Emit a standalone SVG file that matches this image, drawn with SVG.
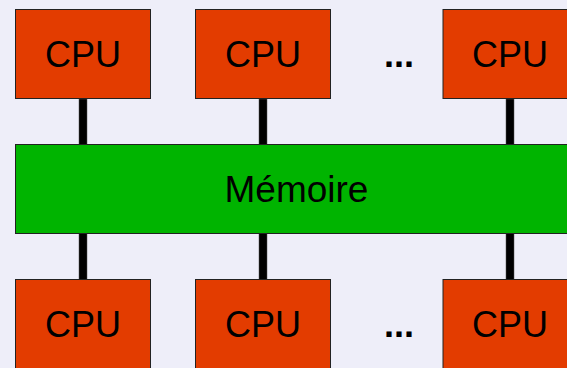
<svg xmlns="http://www.w3.org/2000/svg" width="567" height="368" viewBox="0 0 567 368">
  <style>
    .cpu { fill: #e33c00; stroke: #222; stroke-width: 1; }
    .mem { fill: #00b400; stroke: #222; stroke-width: 1; }
    .bus { fill: #000; stroke: #555; stroke-width: 0.5; }
    .lbl { font-family: "Liberation Sans", Arial, sans-serif; font-size: 36px; fill: #000; text-anchor: middle; }
    .big { font-size: 37px; }
    .dots { font-family: "Liberation Sans", Arial, sans-serif; font-size: 36px; font-weight: bold; fill: #000; text-anchor: middle; }
  </style>
  <rect width="567" height="368" fill="#eeeef9"/>

  <!-- links between processors and shared memory -->
  <g id="connectors">
    <rect class="bus" x="79" y="99" width="8" height="45.5"/>
    <rect class="bus" x="259" y="99" width="8" height="45.5"/>
    <rect class="bus" x="506" y="99" width="8" height="45.5"/>
    <rect class="bus" x="79" y="233.5" width="8" height="46"/>
    <rect class="bus" x="259" y="233.5" width="8" height="46"/>
    <rect class="bus" x="506" y="233.5" width="8" height="46"/>
  </g>

  <g id="cpu-top-1">
    <rect class="cpu" x="15.5" y="9.5" width="135" height="89"/>
    <text class="lbl" x="83" y="67">CPU</text>
  </g>
  <g id="cpu-top-2">
    <rect class="cpu" x="195.5" y="9.5" width="135" height="89"/>
    <text class="lbl" x="263" y="67">CPU</text>
  </g>
  <g id="dots-top">
    <text class="dots" x="399" y="67">...</text>
  </g>
  <g id="cpu-top-3">
    <rect class="cpu" x="443" y="9.5" width="135" height="89"/>
    <text class="lbl" x="510" y="67">CPU</text>
  </g>

  <g id="memory">
    <rect class="mem" x="15.5" y="144.5" width="562" height="89"/>
    <text class="lbl big" x="296.5" y="202">Mémoire</text>
  </g>

  <g id="cpu-bottom-1">
    <rect class="cpu" x="15.5" y="279.5" width="135" height="95"/>
    <text class="lbl" x="83" y="337">CPU</text>
  </g>
  <g id="cpu-bottom-2">
    <rect class="cpu" x="195.5" y="279.5" width="135" height="95"/>
    <text class="lbl" x="263" y="337">CPU</text>
  </g>
  <g id="dots-bottom">
    <text class="dots" x="399" y="337">...</text>
  </g>
  <g id="cpu-bottom-3">
    <rect class="cpu" x="443" y="279.5" width="135" height="95"/>
    <text class="lbl" x="510" y="337">CPU</text>
  </g>
</svg>
